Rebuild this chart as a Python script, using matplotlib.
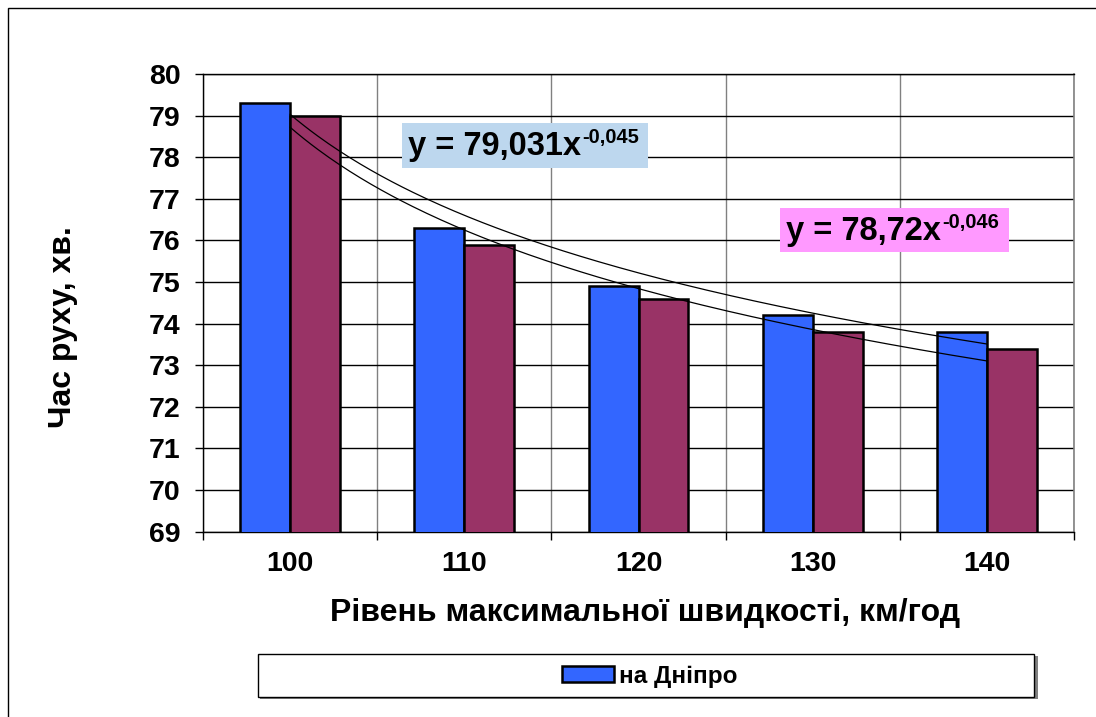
import numpy as np
import matplotlib
matplotlib.use('Agg')
import matplotlib.pyplot as plt
from matplotlib.patches import Rectangle
from matplotlib.ticker import FixedLocator, NullFormatter

plt.rcParams['font.family'] = 'Liberation Sans'
plt.rcParams['font.weight'] = 'bold'

# data
speeds = ['100', '110', '120', '130', '140']
dnipro = [79.3, 76.3, 74.9, 74.2, 73.8]
second = [79.0, 75.9, 74.6, 73.8, 73.4]
legend_label = 'на Дніпро'

# power trendlines shown on the chart: y = a * x^b
trend_blue = (79.031, -0.045)
trend_red = (78.72, -0.046)
label_blue = ('y = 79,031x', '-0,045')
label_red = ('y = 78,72x', '-0,046')

W, H = 1096, 717
fig = plt.figure(figsize=(W / 100, H / 100), dpi=100)
ax = fig.add_axes([203 / W, 1 - 531.6 / H, (1074 - 203) / W, (531.6 - 74) / H])

x = np.arange(len(speeds))
bw = 0.287
bars = ax.bar(x - bw / 2, dnipro, bw, color='#3366FF', edgecolor='black', linewidth=1.8,
              label=legend_label, zorder=3)
ax.bar(x + bw / 2, second, bw, color='#993366', edgecolor='black', linewidth=1.8,
       label='_nolegend_', zorder=3)

# trendlines over category index 1..n
xt = np.linspace(0, len(speeds) - 1, 200)
for a, b in (trend_blue, trend_red):
    ax.plot(xt, a * (xt + 1) ** b, color='black', linewidth=0.9, zorder=4)

ax.set_xlim(-0.5, len(speeds) - 0.5)
ax.set_ylim(69, 80)
ax.set_yticks(range(69, 81))
ax.yaxis.grid(True, color='black', linewidth=1.0, zorder=0)

# x ticks at category boundaries, labels at centers
ax.xaxis.set_major_locator(FixedLocator(np.arange(-0.5, len(speeds), 1.0)))
ax.xaxis.set_major_formatter(NullFormatter())
ax.xaxis.set_minor_locator(FixedLocator(x))
ax.set_xticklabels(speeds, minor=True)
ax.xaxis.grid(True, which='major', color='#808080', linewidth=1.0, zorder=0)
ax.tick_params(axis='x', which='major', length=6, width=1, direction='out')
ax.tick_params(axis='x', which='minor', length=0, pad=14, labelsize=20.5)
ax.tick_params(axis='y', length=6, width=1, direction='out', pad=10, labelsize=20.5)
ax.set_axisbelow(True)

for s in ('left', 'bottom', 'top'):
    ax.spines[s].set_color('black')
    ax.spines[s].set_linewidth(1.0)
ax.spines['right'].set_color('#808080')
ax.spines['right'].set_linewidth(1.2)

fig.text(645 / W, 1 - 613 / H, 'Рівень максимальної швидкості, км/год',
         ha='center', va='center', fontsize=23)
fig.text(63 / W, 1 - 327 / H, 'Час руху, хв.', ha='center', va='center',
         rotation=90, fontsize=23)

renderer = fig.canvas.get_renderer()

# trendline equation boxes
def eq_box(x0, y0, x1, y1, color, parts):
    fig.add_artist(Rectangle((x0 / W, 1 - y1 / H), (x1 - x0) / W, (y1 - y0) / H,
                             transform=fig.transFigure, facecolor=color,
                             edgecolor='none', zorder=5))
    base = 1 - (y0 + 32) / H
    t = fig.text((x0 + 6) / W, base, parts[0], ha='left', va='baseline',
                 fontsize=23.5, zorder=6)
    ext = t.get_window_extent(renderer)
    fig.text((ext.x1 + 1) / W, base + 12 / H, parts[1], ha='left', va='baseline',
             fontsize=14.5, zorder=6)

eq_box(402, 123, 648, 168, '#BDD7EE', label_blue)
eq_box(780, 208, 1009, 252, '#FF99FF', label_red)

# legend frame with shadow
fig.add_artist(Rectangle((260 / W, 1 - 699 / H), (1036 - 258) / W, (697 - 654) / H,
                         transform=fig.transFigure, facecolor='#808080', edgecolor='none'))
fig.add_artist(Rectangle((258 / W, 1 - 697 / H), (1034 - 258) / W, (697 - 654) / H,
                         transform=fig.transFigure, facecolor='white', edgecolor='black',
                         linewidth=1.0))
fig.legend(handles=[bars], labels=[legend_label], loc='center',
           bbox_to_anchor=(650 / W, 1 - 676 / H), frameon=False, fontsize=17.5,
           handlelength=2.15, handleheight=0.65, handletextpad=0.2)

# outer chart border
fig.add_artist(Rectangle((8 / W, -0.1), 1.2, 1 - 8 / H + 0.1, transform=fig.transFigure,
                         facecolor='none', edgecolor='black', linewidth=1.0))

fig.savefig('out.png', dpi=100)
